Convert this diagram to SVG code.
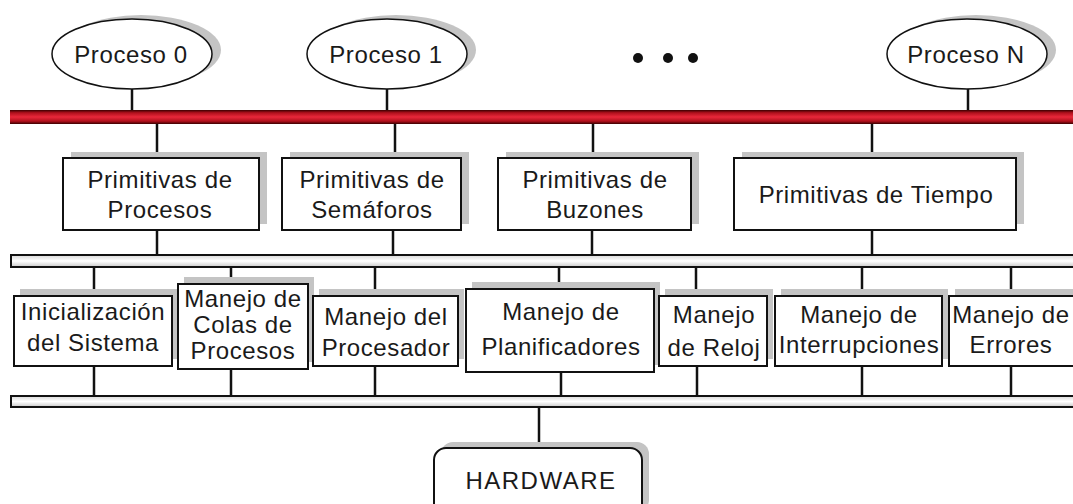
<svg xmlns="http://www.w3.org/2000/svg" width="1073" height="504" viewBox="0 0 1073 504">
<defs>
<linearGradient id="red" x1="0" y1="0" x2="0" y2="1">
<stop offset="0" stop-color="#3a0000"/>
<stop offset="0.2" stop-color="#b0101c"/>
<stop offset="0.5" stop-color="#e8283a"/>
<stop offset="0.8" stop-color="#b0101c"/>
<stop offset="1" stop-color="#3a0000"/>
</linearGradient>
<linearGradient id="grey" x1="0" y1="0" x2="0" y2="1">
<stop offset="0" stop-color="#d8d8d8"/>
<stop offset="0.5" stop-color="#ffffff"/>
<stop offset="1" stop-color="#c8c8c8"/>
</linearGradient>
</defs>
<style>
.t{font-family:"Liberation Sans",Arial,sans-serif;font-size:24px;letter-spacing:0.6px;fill:#1a1a1a;text-anchor:middle}
.box{fill:#fff;stroke:#111;stroke-width:2}
.sh{fill:#c4c4c4}
.ell{fill:#fff;stroke:#111;stroke-width:1.5}
.ln{stroke:#111;stroke-width:2.5;fill:none}
.bus2{fill:url(#grey);stroke:#111;stroke-width:2}
</style>
<rect width="1073" height="504" fill="#fff"/>

<g id="connectors">
<path class="ln" d="M132 89V111M387 89V111M968 89V111"/>
<path class="ln" d="M157 123V158M395 123V158M593 123V158M872 123V158"/>
<path class="ln" d="M157 230V255M393 230V255M592 230V255M872 230V255"/>
<path class="ln" d="M94 267V296M231 267V284M375 267V296M559 267V289M696 267V296M862 267V296M1011 267V296"/>
<path class="ln" d="M94 366V396M231 369V396M375 366V396M561 372V396M697 366V396M862 366V396M1011 366V396"/>
<path class="ln" d="M539 407V448"/>
</g>

<g id="bus-procesos"><rect x="10" y="110" width="1070" height="14" fill="url(#red)"/></g>
<g id="bus-primitivas"><rect x="11" y="255" width="1070" height="12" class="bus2"/></g>
<g id="bus-hardware"><rect x="11" y="396" width="1070" height="11" class="bus2"/></g>

<g id="proceso0">
<ellipse class="sh" cx="141" cy="50" rx="80" ry="35"/>
<ellipse class="ell" cx="132" cy="54" rx="80" ry="35"/>
<text class="t" x="131" y="63">Proceso 0</text>
</g>
<g id="proceso1">
<ellipse class="sh" cx="396" cy="50" rx="80" ry="35"/>
<ellipse class="ell" cx="387" cy="54" rx="80" ry="35"/>
<text class="t" x="386" y="63">Proceso 1</text>
</g>
<g id="dots">
<circle cx="638" cy="58" r="5" fill="#111"/>
<circle cx="668" cy="58" r="5" fill="#111"/>
<circle cx="693" cy="58" r="5" fill="#111"/>
</g>
<g id="procesoN">
<ellipse class="sh" cx="976" cy="50" rx="80" ry="35"/>
<ellipse class="ell" cx="967" cy="54" rx="80" ry="35"/>
<text class="t" x="966" y="63">Proceso N</text>
</g>

<g id="prim-procesos">
<rect class="sh" x="71" y="152" width="196" height="72"/>
<rect class="box" x="63" y="158" width="196" height="72"/>
<text class="t" x="160" y="188">Primitivas de</text>
<text class="t" x="160" y="218">Procesos</text>
</g>
<g id="prim-semaforos">
<rect class="sh" x="290" y="152" width="179" height="72"/>
<rect class="box" x="282" y="158" width="179" height="72"/>
<text class="t" x="372" y="188">Primitivas de</text>
<text class="t" x="372" y="218">Semáforos</text>
</g>
<g id="prim-buzones">
<rect class="sh" x="506" y="152" width="193" height="72"/>
<rect class="box" x="498" y="158" width="193" height="72"/>
<text class="t" x="595" y="188">Primitivas de</text>
<text class="t" x="595" y="218">Buzones</text>
</g>
<g id="prim-tiempo">
<rect class="sh" x="742" y="152" width="282" height="72"/>
<rect class="box" x="734" y="158" width="282" height="72"/>
<text class="t" x="876" y="203">Primitivas de Tiempo</text>
</g>

<g id="inicializacion">
<rect class="sh" x="20" y="289" width="158" height="70"/>
<rect class="box" x="14" y="296" width="158" height="70"/>
<text class="t" x="93" y="320">Inicialización</text>
<text class="t" x="93" y="351">del Sistema</text>
</g>
<g id="colas">
<rect class="sh" x="184" y="277" width="130" height="85"/>
<rect class="box" x="178" y="284" width="130" height="85"/>
<text class="t" x="243" y="307">Manejo de</text>
<text class="t" x="243" y="333">Colas de</text>
<text class="t" x="243" y="359">Procesos</text>
</g>
<g id="procesador">
<rect class="sh" x="319" y="289" width="145" height="70"/>
<rect class="box" x="313" y="296" width="145" height="70"/>
<text class="t" x="386" y="325">Manejo del</text>
<text class="t" x="386" y="356">Procesador</text>
</g>
<g id="planificadores">
<rect class="sh" x="472" y="282" width="188" height="83"/>
<rect class="box" x="466" y="289" width="188" height="83"/>
<text class="t" x="561" y="320">Manejo de</text>
<text class="t" x="561" y="355">Planificadores</text>
</g>
<g id="reloj">
<rect class="sh" x="665" y="289" width="108" height="70"/>
<rect class="box" x="659" y="296" width="108" height="70"/>
<text class="t" x="714" y="323">Manejo</text>
<text class="t" x="714" y="356">de Reloj</text>
</g>
<g id="interrupciones">
<rect class="sh" x="781" y="289" width="167" height="70"/>
<rect class="box" x="775" y="296" width="167" height="70"/>
<text class="t" x="859" y="323">Manejo de</text>
<text class="t" x="859" y="353">Interrupciones</text>
</g>
<g id="errores">
<rect class="sh" x="955" y="289" width="130" height="70"/>
<rect class="box" x="949" y="296" width="130" height="70"/>
<text class="t" x="1011" y="323">Manejo de</text>
<text class="t" x="1011" y="353">Errores</text>
</g>

<g id="hardware">
<rect class="sh" x="441" y="442" width="208" height="70" rx="12"/>
<rect class="box" x="434" y="448" width="208" height="70" rx="12"/>
<text class="t" x="541" y="489" style="letter-spacing:1.5px">HARDWARE</text>
</g>
</svg>
